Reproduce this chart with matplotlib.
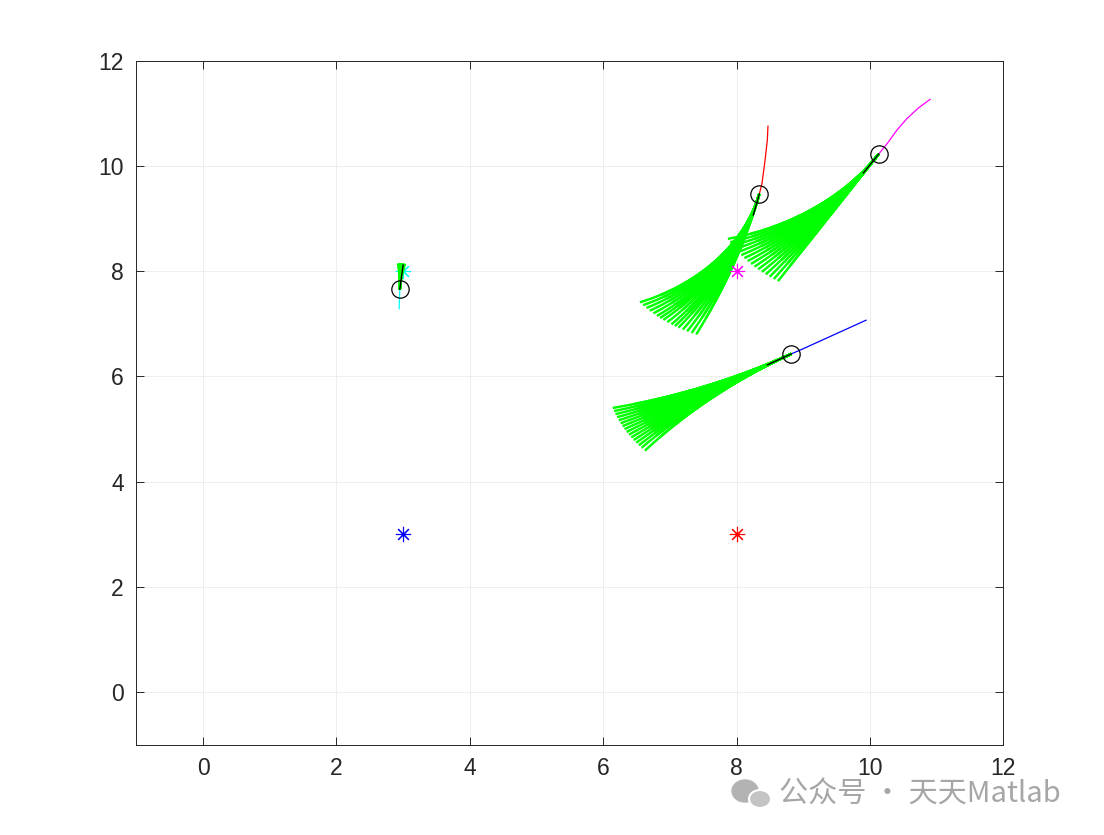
import numpy as np
import matplotlib
matplotlib.use("Agg")
import matplotlib.pyplot as plt
from matplotlib.patches import Ellipse

plt.rcParams['font.family'] = ['Liberation Sans', 'DejaVu Sans']

# ---------------- data ----------------
robot_names = ['blue', 'red', 'magenta', 'cyan']
robot_colors = ['#0000ff', '#ff0000', '#ff00ff', '#00ffff']

# goals (asterisks)
goal_x = [3, 8, 8, 3]
goal_y = [3, 3, 8, 8]

# travelled paths
path_blue_x = [9.94, 8.95, 8.82]
path_blue_y = [7.07, 6.50, 6.43]
path_red_x = [8.47, 8.46, 8.44, 8.42, 8.38, 8.34]
path_red_y = [10.76, 10.49, 10.27, 10.05, 9.67, 9.47]
path_magenta_x = [10.90, 10.72, 10.55, 10.40, 10.27, 10.13]
path_magenta_y = [11.27, 11.10, 10.90, 10.68, 10.45, 10.23]
path_cyan_x = [2.94, 2.95]
path_cyan_y = [7.29, 7.66]

# current robot positions (circles)
pos_x = [8.82, 8.34, 10.13, 2.95]
pos_y = [6.43, 9.47, 10.23, 7.66]

# chosen short trajectory (black) end points
best_x = [8.46, 8.25, 9.90, 3.00]
best_y = [6.22, 9.07, 9.87, 8.12]

# predicted trajectory fans: heading (deg), lengths per speed sample, turn angle of each candidate (deg)
fan_heading = [-150, -103, -122, 87]
fan_lengths_blue = [2.88, 2.55, 2.2, 1.85, 1.5]
fan_lengths_red = [2.84, 2.5, 2.15, 1.8, 1.45]
fan_lengths_magenta = [2.85, 2.5, 2.15, 1.8, 1.45]
fan_lengths_cyan = [0.49, 0.42, 0.35]
fan_turns_blue = [-18, -15.5, -13, -10.5, -8, -5.5, -3, -0.5, 2, 4.5, 7, 9.5, 12, 14.5, 17, 20]
fan_turns_red = [-56, -53, -50, -47, -44, -41, -38.5, -36, -33, -30, -27.5, -25, -22, -19, -16, -13]
fan_turns_magenta = [-45, -42, -39, -36, -33, -30, -27, -24, -21, -18, -15, -12, -9, -6, -3, 0]
fan_turns_cyan = [-13, -10.5, -8, -5, -2.5, 0, 2.5, 5, 8, 10.5, 13]

x_ticks = [0, 2, 4, 6, 8, 10, 12]
y_ticks = [0, 2, 4, 6, 8, 10, 12]

paths_x = [path_blue_x, path_red_x, path_magenta_x, path_cyan_x]
paths_y = [path_blue_y, path_red_y, path_magenta_y, path_cyan_y]
fan_turns = [fan_turns_blue, fan_turns_red, fan_turns_magenta, fan_turns_cyan]
fan_lengths = [fan_lengths_blue, fan_lengths_red, fan_lengths_magenta, fan_lengths_cyan]


def arc(x0, y0, heading_deg, length, turn_deg, n=40):
    """Constant-curvature arc; turn_deg is the total heading change at full length."""
    th0 = np.deg2rad(heading_deg)
    k = np.deg2rad(turn_deg) / length
    s = np.linspace(0, length, n)
    if abs(k) < 1e-9:
        return x0 + s * np.cos(th0), y0 + s * np.sin(th0)
    x = x0 + (np.sin(th0 + k * s) - np.sin(th0)) / k
    y = y0 - (np.cos(th0 + k * s) - np.cos(th0)) / k
    return x, y


fig = plt.figure(figsize=(11.04, 8.35), dpi=100)
ax = fig.add_axes([0.1235, 0.1083, 0.7854, 0.8187])

for i in range(4):
    c = robot_colors[i]
    ax.plot(goal_x[i], goal_y[i], linestyle='none', marker=(8, 2, 0),
            markersize=11, markeredgewidth=0.8, color=c, zorder=3)
    ax.plot(paths_x[i], paths_y[i], color=c, lw=0.9, zorder=3)
    L0 = fan_lengths[i][0]
    for L in fan_lengths[i]:
        for t in fan_turns[i]:
            # same angular rate, shorter travel for slower speed samples
            fx, fy = arc(pos_x[i], pos_y[i], fan_heading[i], L, t * L / L0)
            ax.plot(fx, fy, color='#00ff00', lw=1.75, zorder=3,
                    solid_capstyle='butt')
    ax.plot([pos_x[i], best_x[i]], [pos_y[i], best_y[i]], color='black', lw=1.0, zorder=3)
    ax.plot(pos_x[i], pos_y[i], linestyle='none', marker='o', markersize=12.5,
            markerfacecolor='none', markeredgecolor='black', markeredgewidth=0.9, zorder=3)

ax.set_xlim(-1, 12)
ax.set_ylim(-1, 12)
ax.set_xticks(x_ticks)
ax.set_yticks(y_ticks)
ax.set_xticklabels([str(v) for v in x_ticks])
ax.set_yticklabels([str(v) for v in y_ticks])
ax.grid(True, color='#ebebeb', lw=0.6)
ax.set_axisbelow(True)
ax.tick_params(direction='in', length=6, width=0.7, top=True, right=True,
               labelsize=16.5, colors='#262626', pad=9)
for sp in ax.spines.values():
    sp.set_linewidth(0.7)
    sp.set_color('#262626')

# watermark
fig.text(779 / 1104, 1 - 795 / 835, '公众号 · 天天Matlab', fontsize=21,
         color='#a6a6a6', va='center', ha='left',
         family=['Noto Sans CJK SC', 'DejaVu Sans'])
e1 = Ellipse((745 / 1104, 1 - 791 / 835), 26 / 1104, 22 / 835, color='#b3b3b3',
             transform=fig.transFigure)
e2 = Ellipse((760 / 1104, 1 - 799 / 835), 22 / 1104, 18 / 835, color='#c4c4c4',
             transform=fig.transFigure, ec='white', lw=1.5)
fig.patches.extend([e1, e2])

fig.savefig('out.png', dpi=100, facecolor='white')
